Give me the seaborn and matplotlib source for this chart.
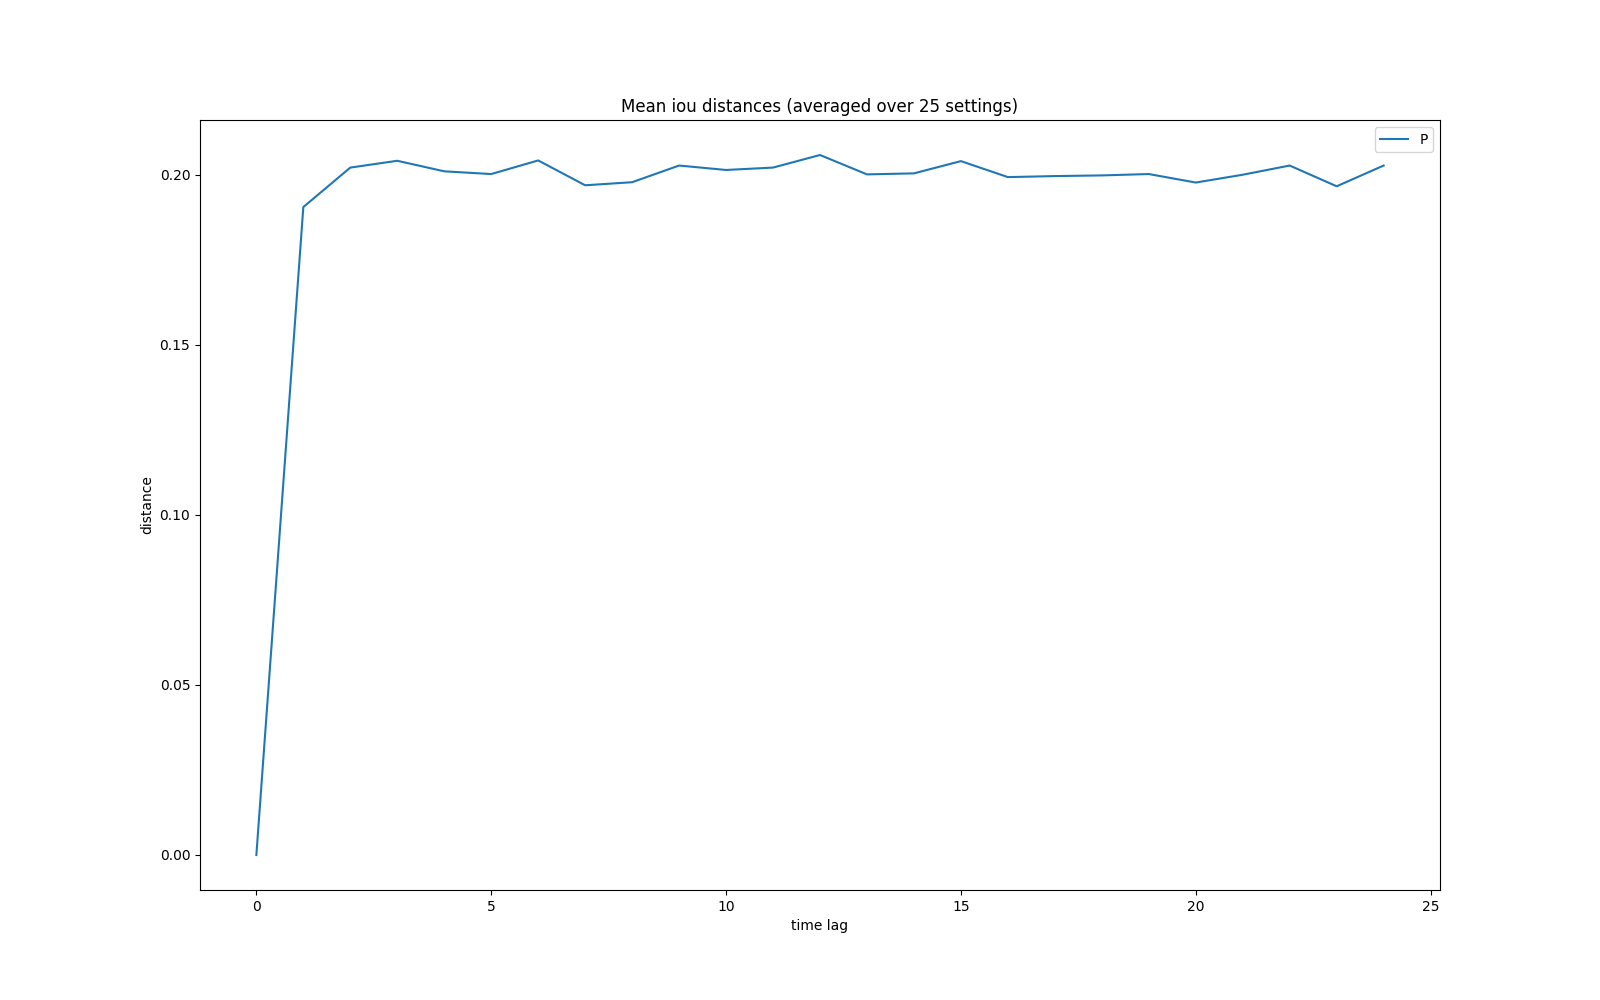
import numpy as np
import pandas as pd
import matplotlib
matplotlib.use('Agg')
import matplotlib.pyplot as plt
import seaborn as sns

# Mean iou distance per time lag
time_lag = list(range(25))
distance = [0.0, 0.1905, 0.2021, 0.2041, 0.2010, 0.2002, 0.2042, 0.1969,
            0.1978, 0.2027, 0.2014, 0.2021, 0.2058, 0.2001, 0.2004, 0.2040,
            0.1993, 0.1996, 0.1998, 0.2002, 0.1977, 0.2000, 0.2027, 0.1966,
            0.2027]
series_label = 'P'

df = pd.DataFrame({'time lag': time_lag, 'distance': distance})

fig, ax = plt.subplots(figsize=(16, 10), dpi=100)
sns.lineplot(data=df, x='time lag', y='distance', ax=ax, label=series_label, color='#1f77b4')
ax.set_title('Mean iou distances (averaged over 25 settings)')
ax.set_xlabel('time lag')
ax.set_ylabel('distance')
ax.legend(loc='upper right')

plt.savefig('out.png', dpi=100)
